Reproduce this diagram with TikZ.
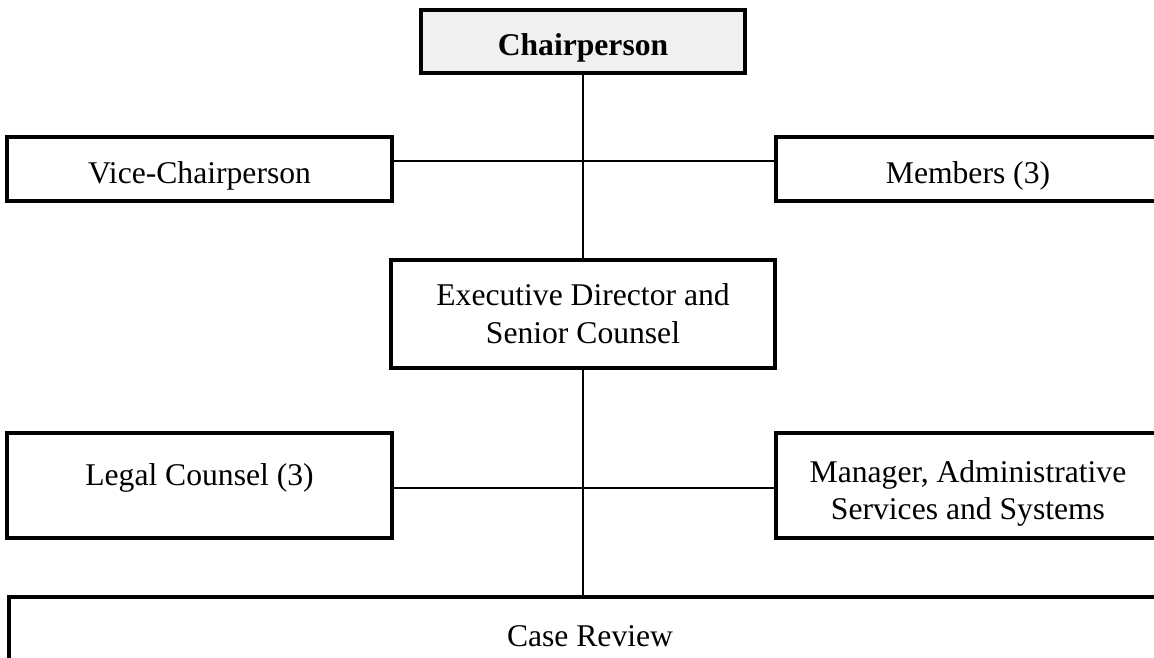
\documentclass[tikz,border=0pt]{standalone}
\usepackage{fontspec}
\setmainfont{Liberation Serif}
\newcommand{\FT}{\fontsize{18}{21.5}\selectfont}

\begin{document}
\begin{tikzpicture}[x=0.02cm,y=-0.02cm]
\tikzstyle{unit}=[draw=black,line width=2pt,fill=white,font=\FT,align=center,inner sep=0pt]
\tikzstyle{low}=[text height=20pt]
\tikzstyle{lowtwo}=[text height=43pt]
\tikzstyle{line}=[black,line width=1.6pt]
\useasboundingbox (0,0) rectangle (1154,658);

\node[unit,low,fill=black!6,font=\FT\bfseries,minimum width=6.48cm,minimum height=1.26cm] (chair) at (583,41.5) {Chairperson};

\node[unit,low,minimum width=7.7cm,minimum height=1.28cm] (vice) at (199.5,169) {Vice-Chairperson};
\node[unit,low,minimum width=7.68cm,minimum height=1.28cm] (members) at (968,169) {Members (3)};

\node[unit,minimum width=7.68cm,minimum height=2.16cm] (exec) at (583,314) {Executive Director and\\Senior Counsel};

\node[unit,lowtwo,minimum width=7.7cm,minimum height=2.1cm] (legal) at (199.5,485.5) {Legal Counsel (3)\\\mbox{}};
\node[unit,lowtwo,minimum width=7.68cm,minimum height=2.1cm] (manager) at (968,485.5) {Manager, Administrative\\Services and Systems};

\node[unit,minimum width=23.24cm,minimum height=1.56cm] (review) at (590,636) {Case Review};

\draw[line] (chair.south) -- (exec.north);
\draw[line] ([yshift=0.16cm]vice.east) -- ([yshift=0.16cm]members.west);
\draw[line] (exec.south) -- (exec.south |- review.north);
\draw[line] ([yshift=-0.05cm]legal.east) -- ([yshift=-0.05cm]manager.west);
\end{tikzpicture}
\end{document}
